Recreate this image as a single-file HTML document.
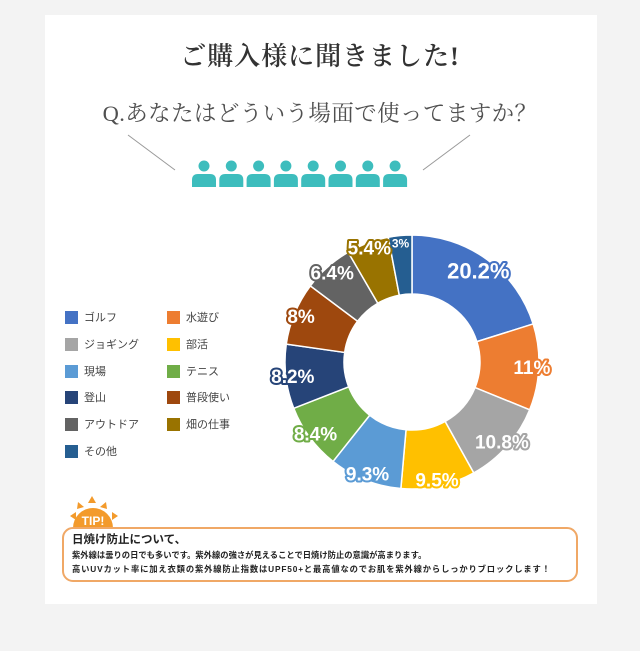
<!DOCTYPE html>
<html><head><meta charset="utf-8"><style>
body{margin:0;background:#f3f3f3;width:640px;height:651px;overflow:hidden;font-family:"Liberation Sans","Noto Sans CJK JP",sans-serif}
.card{position:absolute;left:45px;top:15px;width:552px;height:589px;background:#fff}
.serif{font-family:"Liberation Serif","Noto Serif CJK SC",serif;color:#3a3a3a;position:absolute;width:640px;text-align:center;left:0}
.leg{position:absolute;font-size:11px;color:#444;height:14px;line-height:14px;padding-left:19px}
.leg i{position:absolute;left:0;top:0;width:13px;height:13px}
</style></head><body>
<div class="card"></div>
<div class="serif" style="top:36px;font-size:26px;letter-spacing:1px;font-weight:600;color:#333">ご購入様に聞きました!</div>
<div class="serif" style="top:96px;font-size:22.5px;color:#505050;letter-spacing:0.4px">Q.あなたはどういう場面で使ってますか？</div>
<svg width="640" height="651" style="position:absolute;left:0;top:0" id="svg">
<line x1="128" y1="135" x2="175" y2="170" stroke="#999" stroke-width="1"/>
<line x1="470" y1="135" x2="423" y2="170" stroke="#999" stroke-width="1"/>
<g id="people"></g>
<g id="donut"></g>
<g>
<g fill="#f39a2b">
<polygon points="92,496 88,503 96,503"/><polygon points="78,502 77,509 84,507"/><polygon points="106,502 107,509 100,507"/>
<polygon points="70,516 76,512 76,520"/><polygon points="118,516 112,512 112,520"/>
<path d="M73,528 A20,20 0 0 1 113,528 Z"/>
</g>
<text x="93" y="525" text-anchor="middle" font-size="12" font-weight="bold" fill="#fff">TIP!</text>
</g>
<rect x="63" y="528" width="514" height="53" rx="10" fill="#fff" stroke="#f0a866" stroke-width="2"/>
<text x="72" y="543" font-size="11.5" font-weight="bold" fill="#222">日焼け防止について、</text>
<text x="72" y="558" font-size="8.3" font-weight="bold" fill="#222">紫外線は曇りの日でも多いです。紫外線の強さが見えることで日焼け防止の意識が高まります。</text>
<text x="72" y="572" font-size="8.3" font-weight="bold" fill="#222" textLength="478">高いUVカット率に加え衣類の紫外線防止指数はUPF50+と最高値なのでお肌を紫外線からしっかりブロックします！</text>
</svg>
<div id="legend"></div>
<script>
const categories=["ゴルフ","水遊び","ジョギング","部活","現場","テニス","登山","普段使い","アウトドア","畑の仕事","その他"];
const values=[20.2,11,10.8,9.5,9.3,8.4,8.2,8,6.4,5.4,3];
const labels=["20.2%","11%","10.8%","9.5%","9.3%","8.4%","8.2%","8%","6.4%","5.4%","3%"];
const colors=["#4472c4","#ed7d31","#a5a5a5","#ffc000","#5b9bd5","#70ad47","#264478","#9e480e","#636363","#997300","#255e91"];
const NS="http://www.w3.org/2000/svg";
const cx=412,cy=362,R=127,r=68;
const total=values.reduce((a,b)=>a+b,0);
const ang=v=>v/total*2*Math.PI;
const pt=(a,rad)=>[cx+rad*Math.sin(a),cy-rad*Math.cos(a)];
const dg=document.getElementById('donut');
let a0=0;
values.forEach((v,i)=>{
  const a1=a0+ang(v);
  const [x1,y1]=pt(a0,R),[x2,y2]=pt(a1,R),[x3,y3]=pt(a1,r),[x4,y4]=pt(a0,r);
  const lg=(a1-a0)>Math.PI?1:0;
  const p=document.createElementNS(NS,'path');
  p.setAttribute('d',`M${x1},${y1}A${R},${R} 0 ${lg} 1 ${x2},${y2}L${x3},${y3}A${r},${r} 0 ${lg} 0 ${x4},${y4}Z`);
  p.setAttribute('fill',colors[i]);p.setAttribute('stroke','#fff');p.setAttribute('stroke-width','1.5');
  
  
  dg.appendChild(p);
  a0=a1;
});
a0=0;
values.forEach((v,i)=>{
  const am=a0+ang(v)/2;a0+=ang(v);
  const [x,y]=pt(am,i==0?112:(v<6?122:120));
  const t=document.createElementNS(NS,'text');
  t.setAttribute('x',x);t.setAttribute('y',y+7);t.setAttribute('text-anchor','middle');
  t.setAttribute('font-size',v<4?12:(v>15?22:19));t.setAttribute('font-weight','bold');
  t.setAttribute('fill','#fff');t.setAttribute('stroke',colors[i]);t.setAttribute('stroke-width','4');
  t.setAttribute('stroke-linejoin','round');
  t.setAttribute('paint-order','stroke');
  
  
  t.textContent=labels[i];
  dg.appendChild(t);
});
const pg=document.getElementById('people');
for(let k=0;k<8;k++){
  const x=204+k*27.3;
  const c=document.createElementNS(NS,'circle');
  c.setAttribute('cx',x);c.setAttribute('cy',166);c.setAttribute('r',5.5);c.setAttribute('fill','#3dbdbd');
  
  
  pg.appendChild(c);
  const b=document.createElementNS(NS,'path');
  b.setAttribute('d',`M${x-12},187V180Q${x-12},174 ${x-6},174H${x+6}Q${x+12},174 ${x+12},180V187Z`);
  b.setAttribute('fill','#3dbdbd');
  
  
  pg.appendChild(b);
}
const lg=document.getElementById('legend');
categories.forEach((c,i)=>{
  const d=document.createElement('div');
  d.className='leg';
  
  
  d.style.left=(i%2?167:65)+'px';
  d.style.top=(311+Math.floor(i/2)*26.8)+'px';
  d.innerHTML='<i style="background:'+colors[i]+'"></i>'+c;
  lg.appendChild(d);
});
</script>
</body></html>
